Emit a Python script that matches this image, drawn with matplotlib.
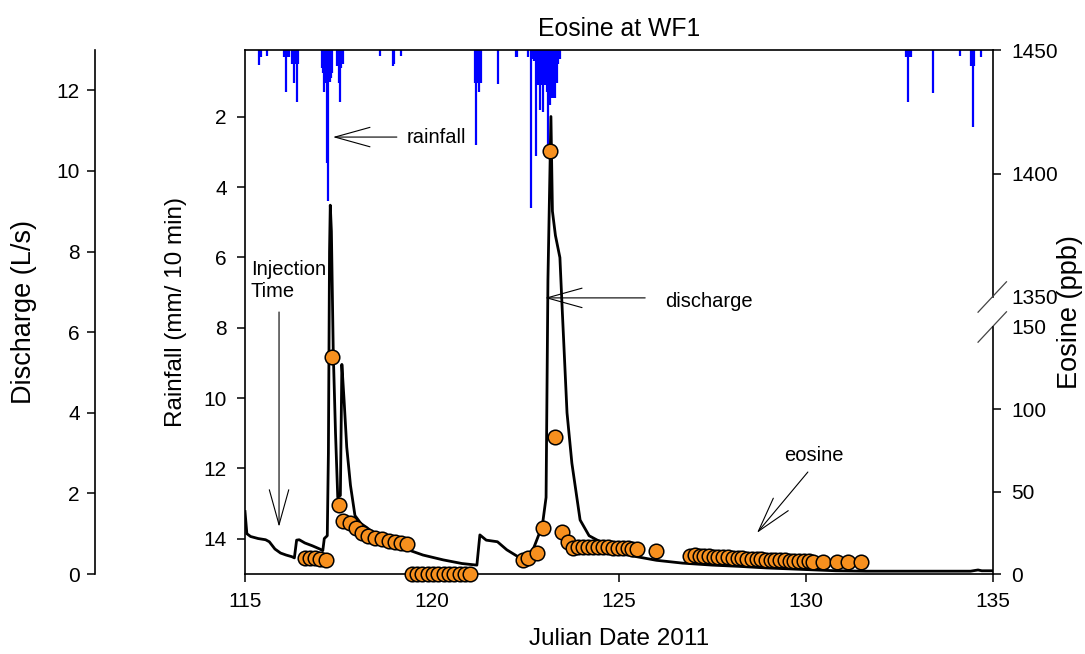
import numpy as np
import matplotlib.pyplot as plt

plt.rcParams['font.family'] = ['Liberation Sans', 'DejaVu Sans']

# rainfall (mm / 10 min)
rain_day = [115.38, 115.42, 115.60,
            116.04, 116.07, 116.10, 116.14, 116.18, 116.26, 116.30, 116.34, 116.38, 116.42,
            117.06, 117.09, 117.12, 117.15, 117.18, 117.20, 117.23, 117.26, 117.29, 117.33,
            117.46, 117.50, 117.54, 117.58, 117.62,
            118.60, 118.96, 118.98, 119.17,
            121.16, 121.18, 121.22, 121.27, 121.32, 121.76,
            122.24, 122.28, 122.58, 122.65, 122.70, 122.74, 122.77, 122.81, 122.85, 122.89,
            122.93, 122.98, 123.02, 123.07, 123.11, 123.16, 123.20, 123.24, 123.29, 123.33,
            123.37, 123.42,
            132.68, 132.72, 132.76, 132.80, 133.40, 134.12, 134.40, 134.46, 134.50, 134.68]
rain_mm = [0.52, 0.30, 0.27,
           0.30, 0.30, 1.30, 0.30, 0.30, 0.50, 1.04, 0.50, 1.57, 0.50,
           0.60, 0.75, 1.30, 1.04, 0.90, 3.30, 4.40, 1.00, 0.90, 0.75,
           0.55, 1.04, 1.57, 0.60, 0.50,
           0.27, 0.55, 0.50, 0.27,
           1.04, 2.80, 1.04, 1.30, 1.04, 1.06,
           0.30, 0.30, 0.30, 4.60, 0.35, 0.40, 3.10, 1.10, 1.10, 1.80,
           1.10, 1.85, 1.10, 1.30, 2.90, 1.66, 1.46, 1.46, 1.46, 1.04,
           0.50, 0.35,
           0.30, 1.57, 0.30, 0.30, 1.32, 0.27, 0.55, 2.30, 0.55, 0.30]

# discharge (L/s)
q_day = [115.00, 115.05, 115.15, 115.35, 115.55, 115.65, 115.80, 115.95, 116.10, 116.25,
         116.32, 116.38, 116.45, 116.60, 116.80, 117.00, 117.08, 117.12, 117.20, 117.23,
         117.26, 117.28, 117.31, 117.36, 117.42, 117.48, 117.55, 117.59, 117.65, 117.72,
         117.82, 117.94, 118.10, 118.26, 118.50, 118.87, 119.30, 119.76, 120.30, 120.80,
         121.20, 121.28, 121.45, 121.75, 122.00, 122.35, 122.45, 122.70, 122.95, 123.05,
         123.10, 123.18, 123.22, 123.30, 123.42, 123.48, 123.61, 123.74, 123.96, 124.20,
         124.50, 124.80, 125.00, 125.35, 126.00, 126.70, 127.50, 128.20, 128.95, 130.00,
         130.80, 131.60, 132.50, 133.50, 134.40, 134.60, 134.70, 135.00]
q_ls = [1.55, 1.00, 0.93, 0.88, 0.85, 0.80, 0.62, 0.52, 0.47, 0.43,
        0.40, 0.84, 0.85, 0.77, 0.70, 0.62, 0.58, 0.88, 0.95, 3.00,
        8.00, 9.15, 8.50, 5.50, 3.50, 1.90, 1.95, 5.20, 4.30, 3.15,
        2.20, 1.45, 1.25, 1.15, 0.97, 0.80, 0.62, 0.47, 0.35, 0.26,
        0.22, 0.97, 0.84, 0.80, 0.60, 0.40, 0.42, 0.60, 1.20, 1.90,
        7.30, 11.35, 9.00, 8.40, 7.85, 6.60, 4.00, 2.75, 1.34, 0.95,
        0.80, 0.68, 0.62, 0.45, 0.34, 0.27, 0.22, 0.19, 0.15, 0.11,
        0.08, 0.07, 0.07, 0.07, 0.07, 0.10, 0.08, 0.08]

# eosine (ppb)
eos_day = [116.60, 116.74, 116.87, 117.01, 117.17, 117.33, 117.50, 117.63, 117.80, 117.98,
           118.13, 118.30, 118.48, 118.66, 118.85, 119.02, 119.17, 119.33,
           119.46, 119.60, 119.74, 119.89, 120.03, 120.17, 120.31, 120.45, 120.60, 120.74,
           120.88, 121.02,
           122.43, 122.57, 122.80, 122.97, 123.15, 123.30, 123.48, 123.64, 123.77,
           123.90, 124.03, 124.17, 124.30, 124.43, 124.57, 124.70, 124.83, 124.97, 125.10,
           125.23, 125.36, 125.48, 126.00,
           126.90, 127.03, 127.16, 127.28, 127.41, 127.54, 127.66, 127.79, 127.92, 128.04,
           128.17, 128.30, 128.42, 128.55, 128.68, 128.80, 128.93, 129.06, 129.18, 129.31,
           129.44, 129.56, 129.69, 129.82, 129.94, 130.07, 130.20, 130.46, 130.83, 131.13,
           131.46]
eos_ppb = [9.8, 9.8, 9.6, 9.2, 8.5, 132, 42, 32, 31, 28,
           25, 23, 22, 21, 20, 19.5, 19, 18.3,
           0, 0, 0, 0, 0, 0, 0, 0, 0, 0,
           0, 0,
           8.5, 10, 13, 28, 1409, 83, 25.6, 19.5, 15.8,
           16.5, 16.6, 16.6, 16.5, 16.4, 16.3, 16.2, 16.0, 15.9, 15.8,
           15.6, 15.4, 15.2, 14.0,
           11.0, 11.3, 11.2, 11.0, 10.8, 10.6, 10.4, 10.3, 10.1, 9.9,
           9.8, 9.6, 9.4, 9.3, 9.1, 9.0, 8.8, 8.7, 8.5, 8.4,
           8.2, 8.1, 8.0, 7.8, 7.7, 7.6, 7.5, 7.3, 7.2, 7.2,
           7.0]

eos_ticks = [0, 50, 100, 150, 1350, 1400, 1450]

# broken eosine axis: 0-150 and 1350-1450 stacked
brk_v = [0, 150, 1350, 1450]
brk_p = [0, 247, 277, 524]


def fwd(v):
    return np.interp(v, brk_v, brk_p)


def inv(p):
    return np.interp(p, brk_p, brk_v)


fig = plt.figure(figsize=(10.85, 6.54), dpi=100)
ax = fig.add_axes([245 / 1085, 80 / 654, 748 / 1085, 524 / 654])

ax.vlines(rain_day, 0, rain_mm, color='#0000ff', lw=1.6)
ax.set_xlim(115, 135)
ax.set_ylim(15, 0.1)
ax.set_xticks(range(115, 136, 5))
ax.set_yticks(range(2, 15, 2))
ax.spines['right'].set_visible(False)
ax.set_ylabel('Rainfall (mm/ 10 min)', fontsize=17.5)
ax.yaxis.set_label_coords(-0.077, 0.5)
ax.set_xlabel('Julian Date 2011', fontsize=17.5)
ax.xaxis.set_label_coords(0.5, -0.103)
ax.set_title('Eosine at WF1', fontsize=17.8, pad=10)

# discharge axis, separate spine on the far left
ax2 = ax.twinx()
ax2.plot(q_day, q_ls, color='k', lw=2)
ax2.set_ylim(0, 13)
ax2.set_yticks(range(0, 13, 2))
ax2.yaxis.set_ticks_position('left')
ax2.yaxis.set_label_position('left')
ax2.spines['left'].set_position(('axes', -150 / 748))
for s in ['right', 'top', 'bottom']:
    ax2.spines[s].set_visible(False)
ax2.set_ylabel('Discharge (L/s)', fontsize=19.5)
ax2.yaxis.set_label_coords(-0.278, 0.5)

# eosine axis on the right with a break
ax3 = ax.twinx()
ax3.set_yscale('function', functions=(fwd, inv))
ax3.plot(eos_day, eos_ppb, 'o', ms=10.5, mfc='#f7901e', mec='k', mew=1.1,
         ls='none', clip_on=False, zorder=5)
ax3.set_ylim(0, 1450)
ax3.set_yticks(eos_ticks)
ax3.yaxis.set_minor_locator(plt.NullLocator())
for t in ax3.yaxis.get_major_ticks()[3:5]:
    t.tick2line.set_visible(False)
for s in ['left', 'top', 'bottom']:
    ax3.spines[s].set_visible(False)
ax3.spines['right'].set_bounds(0, 150)
ax3.plot([1, 1], [1350, 1450], color='k', lw=1.2, clip_on=False,
         transform=ax3.get_yaxis_transform())
ax3.set_ylabel('Eosine (ppb)', fontsize=19.5)
ax3.yaxis.set_label_coords(1.086, 0.5)

top_p = fwd(1450)
for v in [150, 1350]:
    yf = fwd(v) / top_p
    ax3.plot([1 - 0.020, 1 + 0.018], [yf - 0.029, yf + 0.029], color='#444444',
             lw=0.9, transform=ax3.transAxes, clip_on=False)

for a in [ax, ax2, ax3]:
    a.tick_params(direction='out', length=6, width=1.1, labelsize=15, pad=7)
    for s in a.spines.values():
        s.set_linewidth(1.2)
ax2.tick_params(pad=5)

# annotations
arw = dict(arrowstyle='->,head_length=1.8,head_width=0.5', mutation_scale=14,
           lw=0.8, color='k', shrinkA=0, shrinkB=0)
ax2.annotate('', xy=(117.35, 10.84), xytext=(119.06, 10.84), arrowprops=arw)
ax2.text(119.33, 10.84, 'rainfall', fontsize=14.5, va='center', ha='left')
ax2.annotate('', xy=(123.02, 6.85), xytext=(125.70, 6.85), arrowprops=arw)
ax2.text(126.23, 6.75, 'discharge', fontsize=14.5, va='center', ha='left')
ax2.annotate('', xy=(115.91, 1.17), xytext=(115.91, 6.5), arrowprops=arw)
ax2.text(115.16, 7.8, 'Injection\nTime', fontsize=14.5, va='top', ha='left', linespacing=1.2)
ax2.annotate('', xy=(128.69, 1.02), xytext=(130.05, 2.53), arrowprops=arw)
ax2.text(130.21, 2.95, 'eosine', fontsize=14.5, va='center', ha='center')

fig.savefig('out.png', dpi=100)
